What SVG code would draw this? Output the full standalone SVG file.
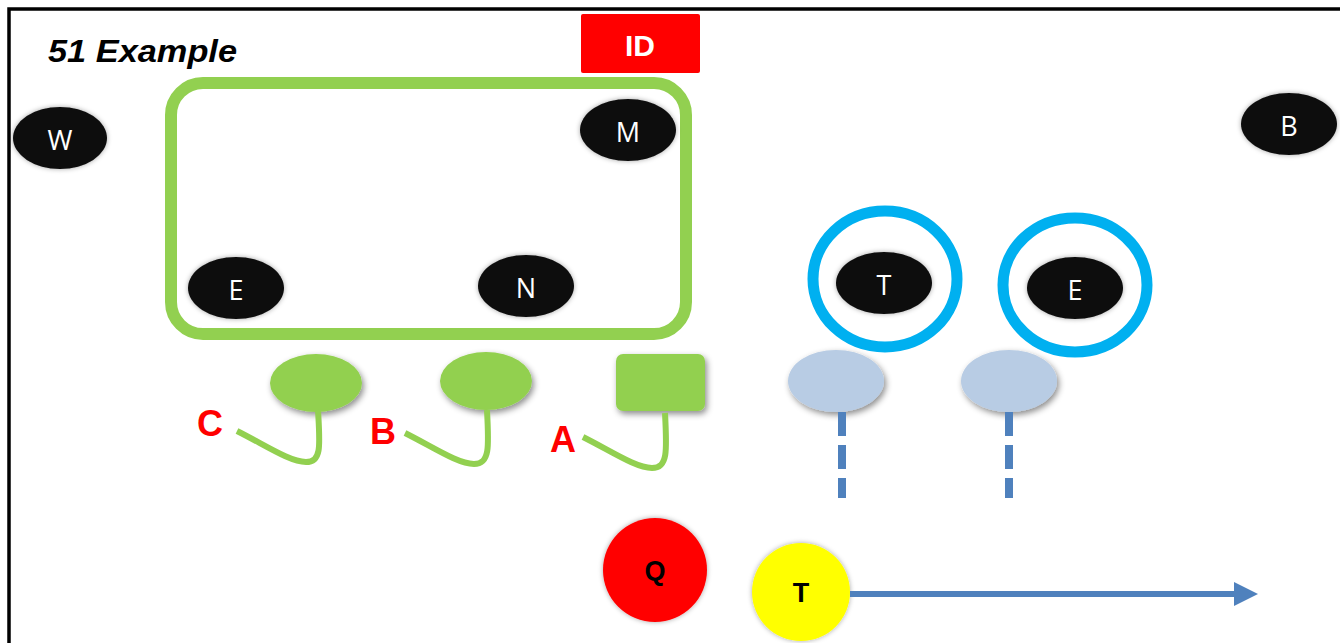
<svg xmlns="http://www.w3.org/2000/svg" width="1340" height="643" viewBox="0 0 1340 643">
  <defs>
    <filter id="shadow" x="-30%" y="-30%" width="160%" height="170%">
      <feDropShadow dx="2" dy="3" stdDeviation="3" flood-color="#000" flood-opacity="0.45"/>
    </filter>
    <filter id="glow" x="-30%" y="-30%" width="160%" height="160%">
      <feDropShadow dx="0" dy="0" stdDeviation="2.5" flood-color="#000" flood-opacity="0.35"/>
    </filter>
    <marker id="arrow" markerWidth="4" markerHeight="4" refX="1" refY="2" orient="auto" markerUnits="strokeWidth">
      <path d="M0,0 L4,2 L0,4 z" fill="#4f81bd"/>
    </marker>
    <style>
      .player { fill: #0d0d0d; filter: url(#glow); }
      .plabel { fill: #ffffff; font-family: "Open Sans", "Liberation Sans", sans-serif; font-size: 27px; text-anchor: middle; dominant-baseline: central; }
      .green { fill: #92d050; filter: url(#shadow); }
      .lblue { fill: #b8cce4; filter: url(#shadow); }
      .ring { fill: none; stroke: #00b0f0; stroke-width: 11; }
      .route { fill: none; stroke: #92d050; stroke-width: 6; stroke-linecap: butt; }
      .dash { fill: none; stroke: #4f81bd; stroke-width: 8; stroke-dasharray: 24 9; }
      .letter { fill: #ff0000; font-family: "Liberation Sans", Arial, sans-serif; font-weight: bold; font-size: 36px; text-anchor: middle; dominant-baseline: central; }
      .dark { fill: #000; font-family: "Liberation Sans", Arial, sans-serif; font-weight: bold; font-size: 27px; text-anchor: middle; dominant-baseline: central; }
    </style>
  </defs>

  <rect x="0" y="0" width="1340" height="643" fill="#ffffff"/>
  <!-- frame -->
  <path d="M9,643 V9 H1340" fill="none" stroke="#000" stroke-width="3.5"/>

  <text x="48" y="62" font-family="Liberation Sans, Arial, sans-serif" font-weight="bold" font-style="italic" font-size="32" fill="#000" textLength="189" lengthAdjust="spacingAndGlyphs">51 Example</text>

  <g id="id-tag">
    <rect x="581" y="14" width="119" height="59" rx="2" fill="#ff0000"/>
    <text x="640" y="45" fill="#fff" font-family="Liberation Sans, Arial, sans-serif" font-weight="bold" font-size="30" text-anchor="middle" dominant-baseline="central">ID</text>
  </g>

  <g id="group-box">
    <rect x="171" y="83" width="515" height="251" rx="32" fill="none" stroke="#92d050" stroke-width="12"/>
  </g>

  <g id="node-W"><ellipse class="player" cx="60" cy="138" rx="47" ry="31"/><text class="plabel" x="60" y="139">W</text></g>
  <g id="node-M"><ellipse class="player" cx="628" cy="130" rx="48" ry="31"/><text class="plabel" x="628" y="131">M</text></g>
  <g id="node-B"><ellipse class="player" cx="1289" cy="124" rx="48" ry="31"/><text class="plabel" x="1289" y="125">B</text></g>
  <g id="node-E1"><ellipse class="player" cx="236" cy="288" rx="48" ry="31"/><text class="plabel" x="236" y="289">E</text></g>
  <g id="node-N"><ellipse class="player" cx="526" cy="286" rx="48" ry="31"/><text class="plabel" x="526" y="287">N</text></g>

  <g id="node-T1">
    <ellipse class="ring" cx="885" cy="279" rx="72" ry="68"/>
    <ellipse class="player" cx="884" cy="283" rx="48" ry="31"/><text class="plabel" x="884" y="284">T</text>
  </g>
  <g id="node-E2">
    <ellipse class="ring" cx="1075" cy="285" rx="72" ry="67"/>
    <ellipse class="player" cx="1075" cy="288" rx="48" ry="31"/><text class="plabel" x="1075" y="289">E</text>
  </g>

  <g id="node-C"><ellipse class="green" cx="316" cy="383" rx="46" ry="29"/></g>
  <g id="node-Bg"><ellipse class="green" cx="486" cy="381" rx="46" ry="29"/></g>
  <g id="node-A"><rect class="green" x="616" y="354" width="89" height="57" rx="7"/></g>
  <g id="node-L1"><ellipse class="lblue" cx="836" cy="381" rx="48" ry="31"/></g>
  <g id="node-L2"><ellipse class="lblue" cx="1009" cy="381" rx="48" ry="31"/></g>

  <g id="node-Q"><circle cx="655" cy="570" r="52" fill="#ff0000" filter="url(#glow)"/><text class="dark" x="655" y="571">Q</text></g>
  <g id="node-Ty"><circle cx="801" cy="592" r="49" fill="#ffff00" filter="url(#glow)"/><text class="dark" x="801" y="593">T</text></g>

  <text class="letter" x="210" y="423">C</text>
  <text class="letter" x="383" y="431">B</text>
  <text class="letter" x="563" y="439">A</text>

  <g id="connectors">
    <path class="route" d="M237,431 C265,445 290,462 306,462 C322,462 320,445 318,410"/>
    <path class="route" d="M405,433 C433,447 458,464 474,464 C490,464 489,447 487,410"/>
    <path class="route" d="M583,437 C611,451 636,468 652,468 C668,468 667,451 665,413"/>
    <path class="dash" d="M842,412 V498"/>
    <path class="dash" d="M1009,412 V498"/>
    <path d="M850,594 H1240" fill="none" stroke="#4f81bd" stroke-width="6" marker-end="url(#arrow)"/>
  </g>
</svg>
